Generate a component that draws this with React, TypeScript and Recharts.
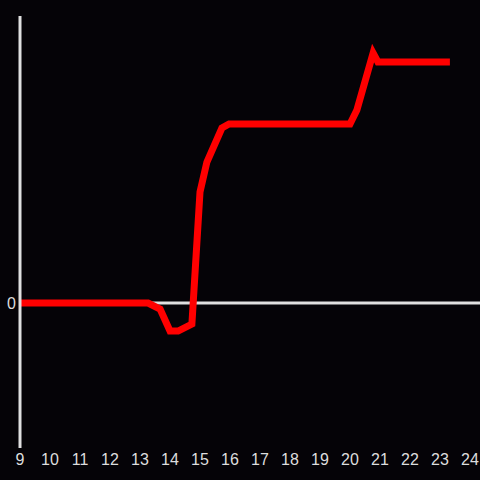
import React from "react";
import { LineChart, Line, XAxis, YAxis, ReferenceLine } from "recharts";

const hours = [9, 13.27, 13.67, 14.0, 14.27, 14.73, 15.0, 15.23, 15.73, 15.97, 20.0, 20.23, 20.77, 20.93, 23.33];
const values = [0, 0, -6, -28, -28, -21, 111, 141, 175, 179, 179, 193, 250, 241, 241];
const xTicks = [9, 10, 11, 12, 13, 14, 15, 16, 17, 18, 19, 20, 21, 22, 23, 24];
const yTicks = [0];

const data = hours.map((h, i) => ({ h, v: values[i] }));

const FONT = "'Liberation Sans', Arial, sans-serif";

const XTick = (props: any) => {
  const { x, y, payload } = props;
  return (
    <text x={x} y={y} dy={11} textAnchor="middle" fill="#dddddd" fontSize={16} fontFamily={FONT}>
      {payload.value}
    </text>
  );
};

const YTick = (props: any) => {
  const { x, y, payload } = props;
  return (
    <text x={x} y={y} dy={6} textAnchor="end" fill="#dddddd" fontSize={16} fontFamily={FONT}>
      {payload.value}
    </text>
  );
};

export default function App() {
  return (
    <div style={{ position: "absolute", left: 0, top: 0, width: 480, height: 480, background: "#050307" }}>
      <LineChart width={480} height={480} data={data} margin={{ top: 16, right: 0, bottom: 0, left: 0 }}>
        <XAxis
          dataKey="h"
          type="number"
          domain={[9, 24.3333]}
          ticks={xTicks}
          axisLine={false}
          tickLine={false}
          height={32}
          tickSize={6}
          tickMargin={0}
          interval={0}
          allowDataOverflow
          tick={<XTick />}
        />
        <YAxis
          type="number"
          domain={[-145, 287]}
          ticks={yTicks}
          width={20}
          axisLine={{ stroke: "#e0e0e0", strokeWidth: 3 }}
          tickLine={false}
          tickSize={2}
          tickMargin={2}
          tick={<YTick />}
        />
        <ReferenceLine y={0} stroke="#e0e0e0" strokeWidth={3} />
        <Line
          dataKey="v"
          type="linear"
          stroke="#ff0000"
          strokeWidth={7}
          dot={false}
          isAnimationActive={false}
        />
      </LineChart>
    </div>
  );
}
